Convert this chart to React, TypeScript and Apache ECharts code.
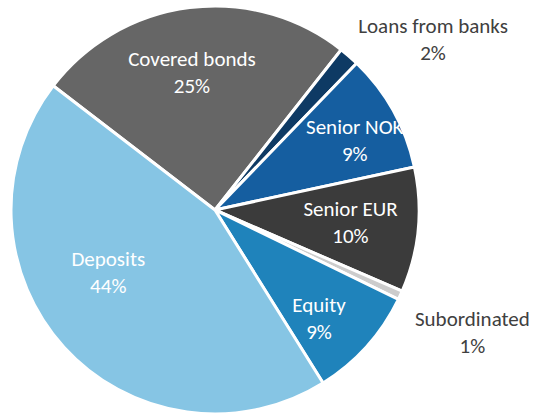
import React, { useEffect, useRef } from "react";
import * as echarts from "echarts";

const categories = ["Covered bonds", "Loans from banks", "Senior NOK", "Senior EUR", "Subordinated", "Equity", "Deposits"];
const values = [25.2, 1.6, 9.4, 9.9, 0.7, 8.9, 44.3];
const colors = ["#666666", "#0e3a64", "#155ea0", "#3b3b3b", "#cccccc", "#1f83bb", "#86c5e4"];
const labelColors = ["#ffffff", "#404040", "#ffffff", "#ffffff", "#404040", "#ffffff", "#ffffff"];
const labelShift: [number, number][] = [
  [-10, -33],
  [149, -91],
  [48, -18],
  [31, 2],
  [162, 79],
  [26, 38],
  [-29, -8],
];

export default function App() {
  const ref = useRef<HTMLDivElement>(null);
  useEffect(() => {
    document.body.style.margin = "0";
    const chart = echarts.init(ref.current!, null, { renderer: "svg" });
    chart.setOption({
      animation: false,
      backgroundColor: "#ffffff",
      series: [
        {
          type: "pie",
          center: [215, 210],
          radius: 204,
          startAngle: 142.5,
          clockwise: true,
          avoidLabelOverlap: false,
          itemStyle: { borderColor: "#ffffff", borderWidth: 3 },
          labelLine: { show: false },
          label: {
            show: true,
            position: "inside",
            fontFamily: "Carlito, Calibri, Lato, sans-serif",
            fontSize: 21,
            lineHeight: 27,
            formatter: (p: any) => `${p.name}\n${Math.round(p.percent)}%`,
          },
          labelLayout: (p: any) => ({ dx: labelShift[p.dataIndex][0], dy: labelShift[p.dataIndex][1] }),
          data: categories.map((name, i) => ({
            name,
            value: values[i],
            itemStyle: { color: colors[i] },
            label: { color: labelColors[i] },
          })),
        },
      ],
    });
    return () => chart.dispose();
  }, []);
  return <div ref={ref} style={{ width: 533, height: 417 }} />;
}
